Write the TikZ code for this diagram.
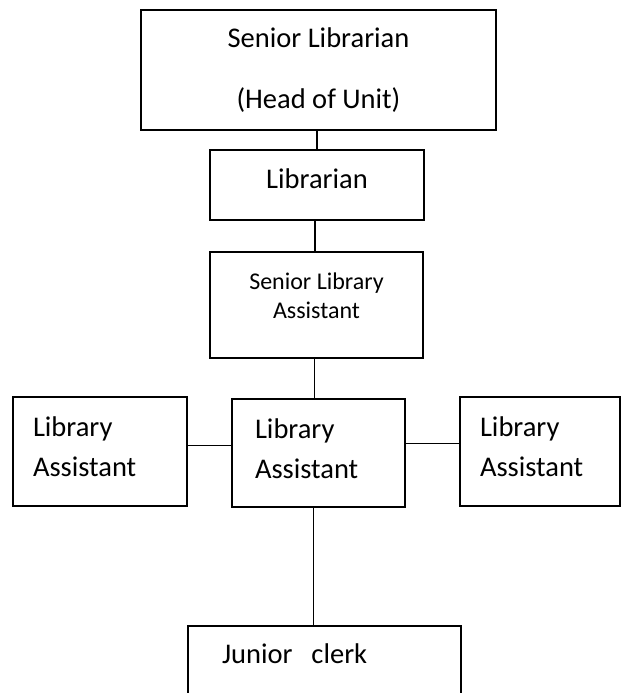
\documentclass[tikz,border=0pt]{standalone}
\usepackage{fontspec}
\setmainfont{Carlito}

\begin{document}
\begin{tikzpicture}[
  x=1pt,
  y=-1pt,
  box/.style={draw, line width=1.6pt, inner sep=0pt, font=\fontsize{28.5}{40}\selectfont},
  leftbox/.style={box, align=left, inner xsep=20pt},
  link/.style={line width=1.1pt}
]
  \path[fill=white] (0,0) rectangle (624,693);
  \useasboundingbox (0,0) rectangle (624,693);

  % các ô
  \node[box, align=center, minimum width=355pt, minimum height=120pt, text depth=4pt] (sl) at (318.5,70)
    {Senior Librarian\\[21pt](Head of Unit)};
  \node[box, minimum width=214pt, minimum height=70pt, text depth=12pt] (lib) at (317,185) {Librarian};
  \node[box, align=center, minimum width=213pt, minimum height=106pt,
        font=\fontsize{24}{29}\selectfont] (sla) at (316.5,305) {Senior Library\\Assistant\\[-11pt]\mbox{}};
  \node[leftbox, text width=134pt, minimum height=109pt] (lal) at (100,451.5) {Library\\Assistant\\[-31pt]\mbox{}};
  \node[leftbox, inner xsep=23pt, text width=127pt, minimum height=108pt] (lac) at (318.5,453) {Library\\Assistant\\[-31pt]\mbox{}};
  \node[leftbox, text width=120pt, minimum height=109pt] (lar) at (540,451.5) {Library\\Assistant\\[-31pt]\mbox{}};
  \node[leftbox, anchor=north, inner xsep=34pt, text width=205pt, inner ysep=20pt,
        text height=18pt, text depth=20pt] (jc) at (324.5,625) {Junior~ clerk};

  % các đường nối
  \draw[link] (lib.north |- sl.south) -- (lib.north);
  \draw[link] ([xshift=-2pt]lib.south) -- ([xshift=-2pt]lib.south |- sla.north);
  \draw[link] ([xshift=-2pt]sla.south) -- ([xshift=-2pt]sla.south |- lac.north);
  \draw[link] ([xshift=-5pt]lac.south) -- ([xshift=-5pt]lac.south |- jc.north);
  \draw[link] ([yshift=6pt]lal.east) -- ([yshift=6pt]lal.east -| lac.west);
  \draw[link] ([yshift=8pt]lar.west) -- ([yshift=8pt]lar.west -| lac.east);
\end{tikzpicture}
\end{document}
